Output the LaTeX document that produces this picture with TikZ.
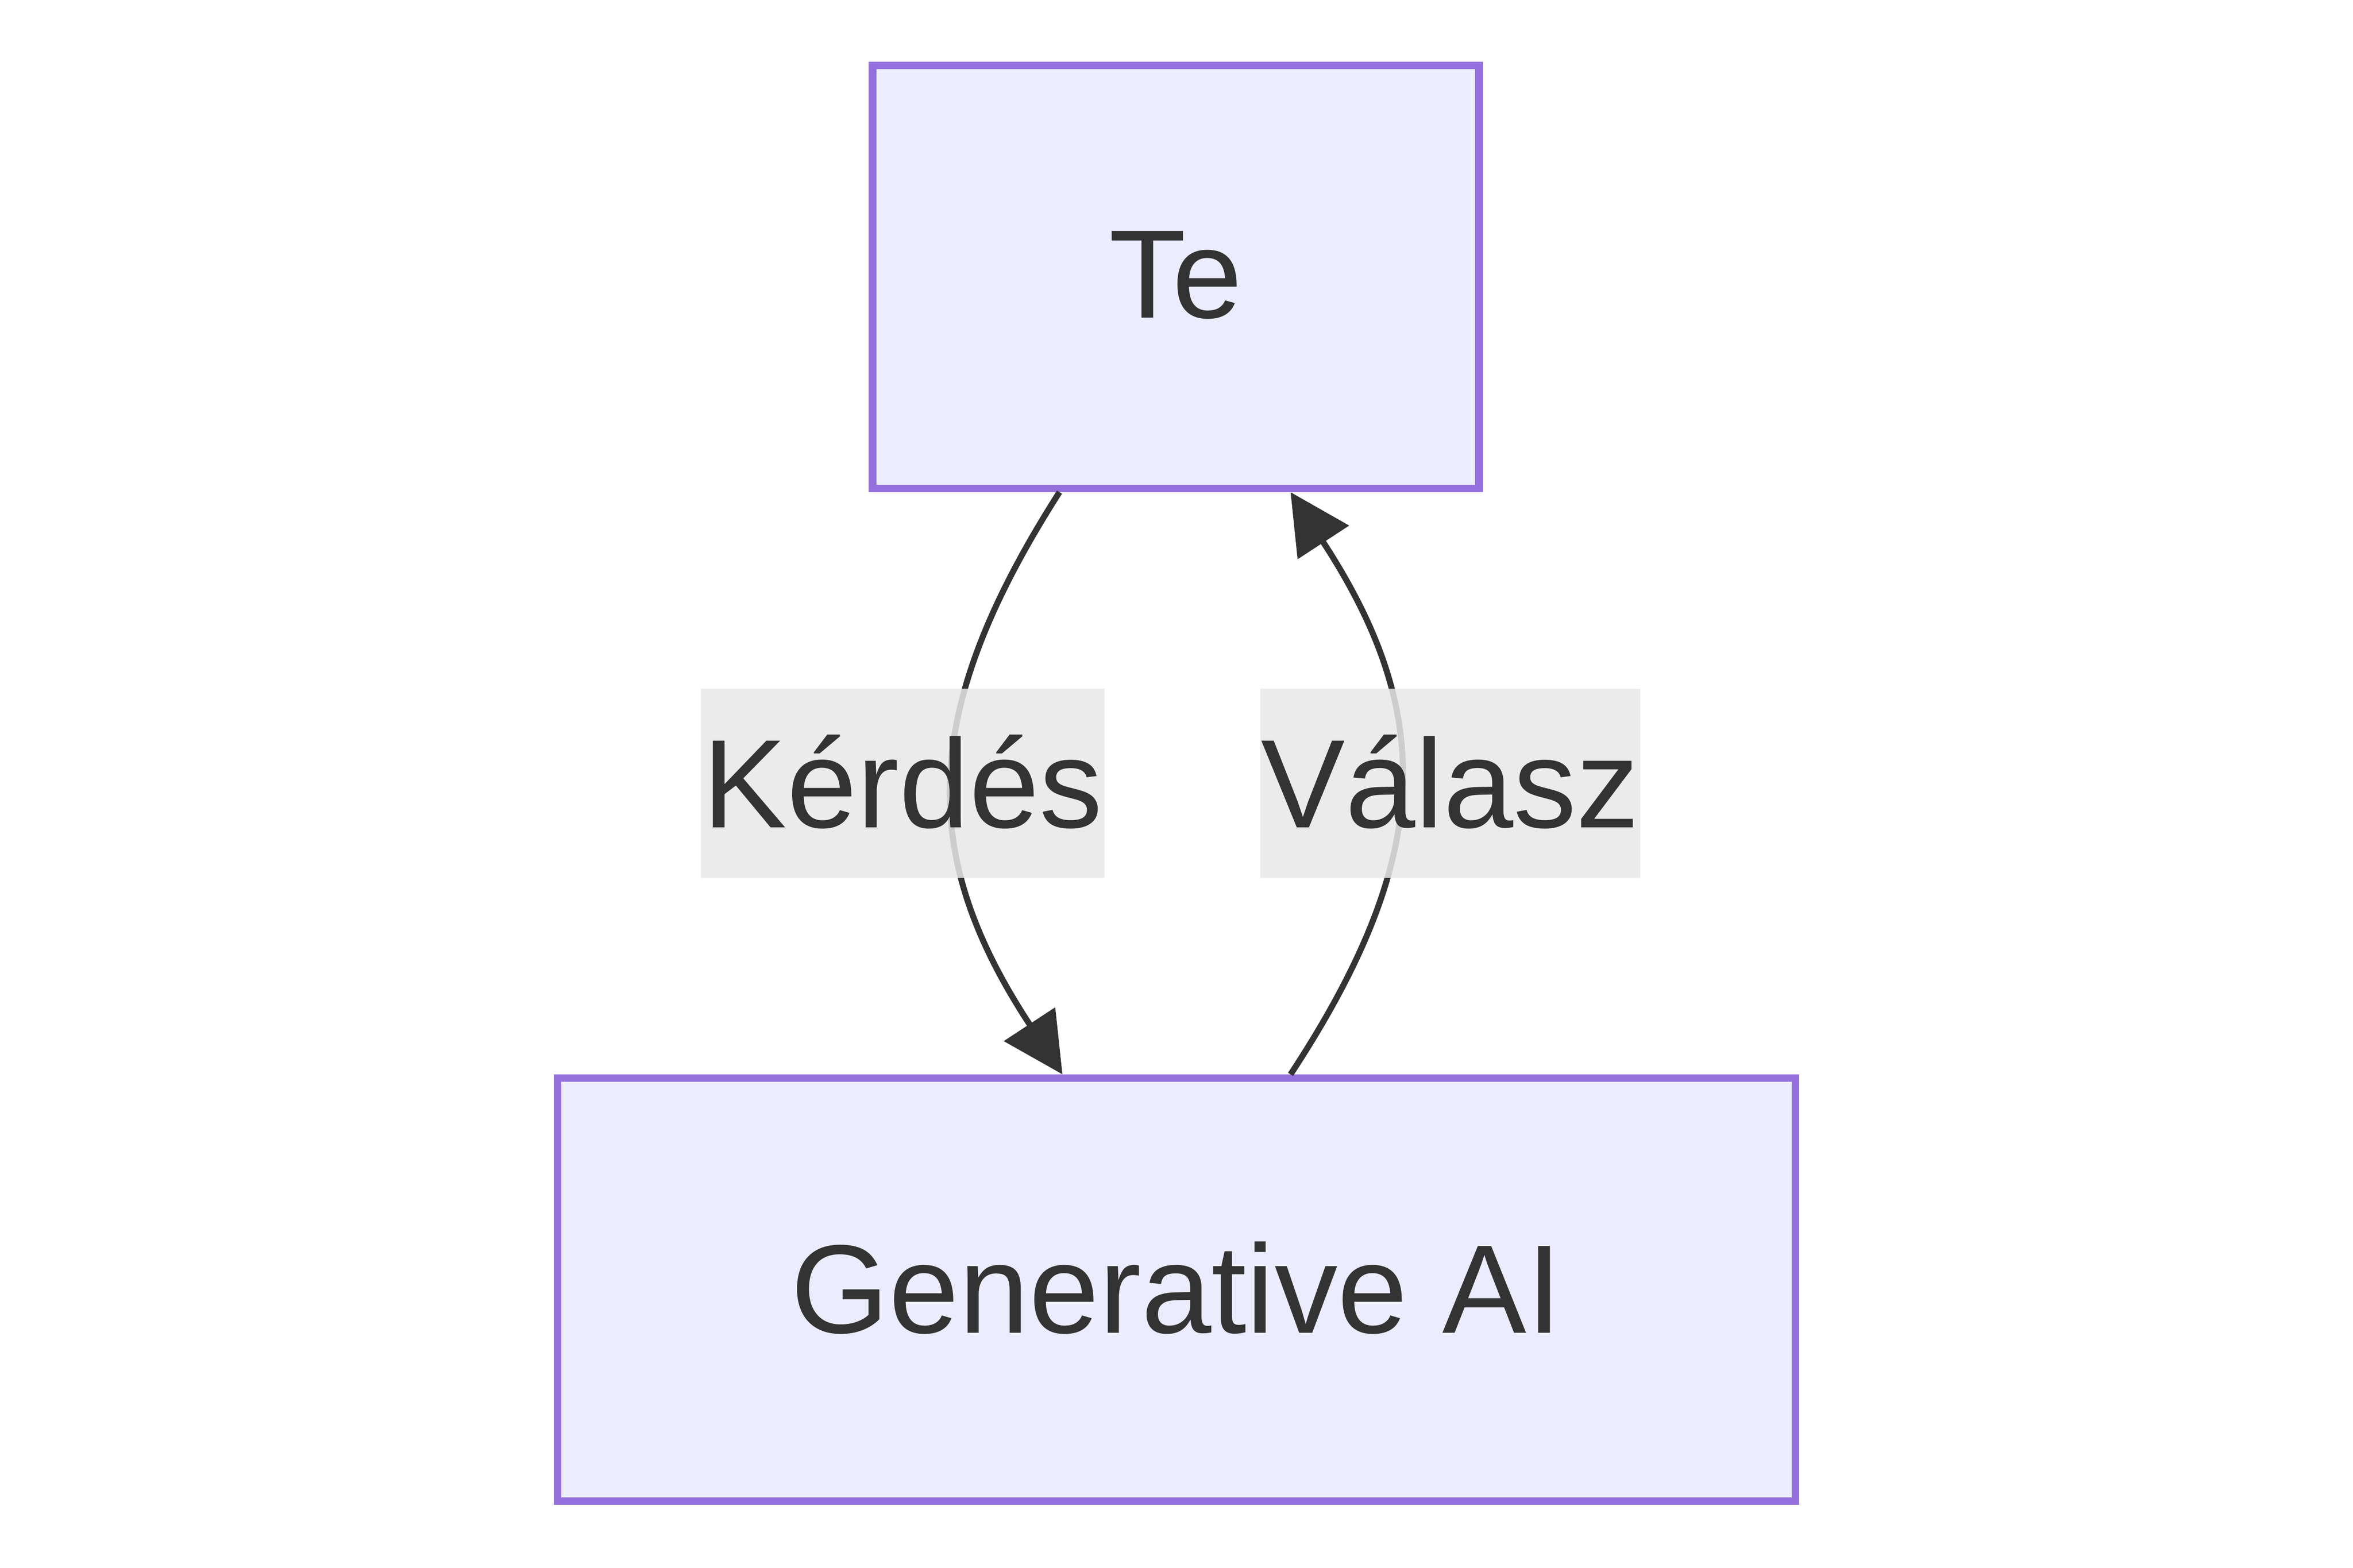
\documentclass[tikz,border=0pt]{standalone}
\usepackage{fontspec}
\setmainfont{Liberation Sans}
\usetikzlibrary{arrows.meta}
\definecolor{nodefill}{HTML}{ECECFF}
\definecolor{nodeborder}{HTML}{9370DB}
\definecolor{ink}{HTML}{333333}
\definecolor{labelbg}{HTML}{E8E8E8}
\tikzset{
  box/.style={draw=nodeborder, fill=nodefill, line width=5pt, inner sep=0pt,
    text=ink, font=\fontsize{84}{100}\selectfont, minimum height=282pt},
  edgelabel/.style={fill=labelbg, fill opacity=0.85, text opacity=1, text=ink,
    inner sep=0pt, minimum height=126pt, font=\fontsize{84}{100}\selectfont},
  link/.style={draw=ink, line width=4pt, -{Triangle[length=40pt,width=40pt]}}
}
\begin{document}
\begin{tikzpicture}[x=1pt,y=-1pt]
\useasboundingbox (0,0) rectangle (1568,1045);
\node[box, minimum width=404pt] (te) at (783.5,184.5) {\raisebox{3pt}{Te}};
\node[box, minimum width=825pt] (gen) at (784,859.5) {\raisebox{3pt}{Generative AI}};
\draw[link] ([xshift=-77.5pt]te.south) .. controls (612,475) and (612,570) .. ([xshift=-76pt]gen.north);
\draw[link] ([xshift=76pt]gen.north) .. controls (956,570) and (956,475) .. ([xshift=76.5pt]te.south);
\node[edgelabel, minimum width=269pt] (q) at (601.5,522) {\raisebox{3pt}{Kérdés}};
\node[edgelabel, minimum width=253pt] (a) at (966.5,522) {\raisebox{3pt}{Válasz}};
\end{tikzpicture}
\end{document}
